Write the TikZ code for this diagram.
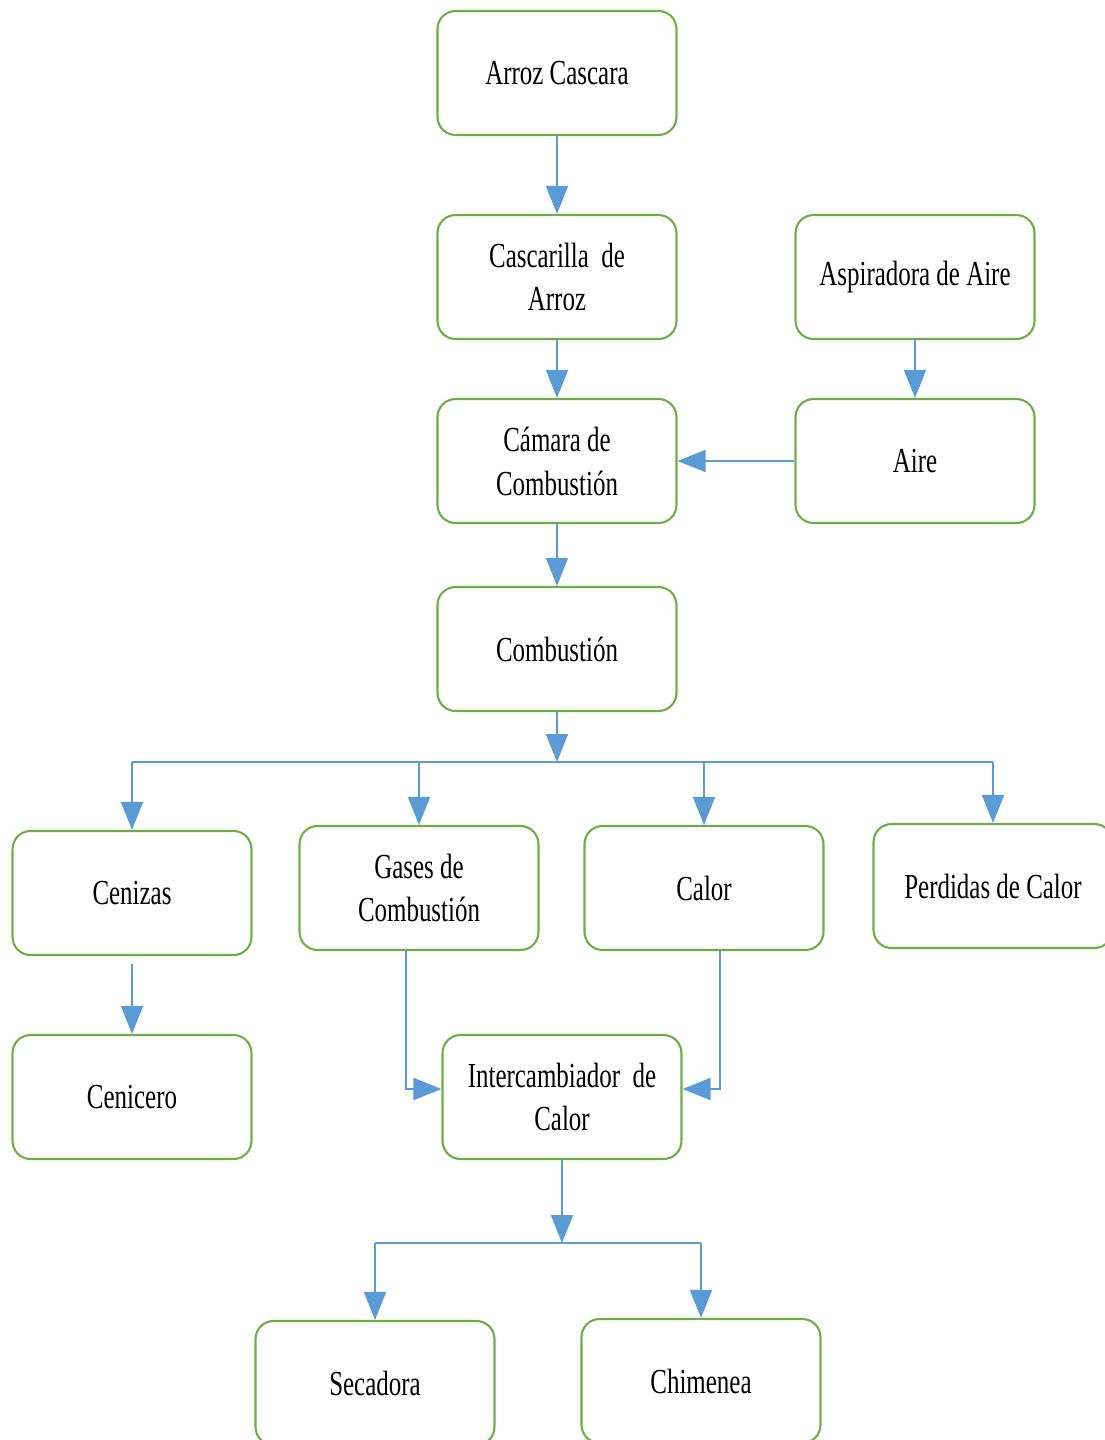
\documentclass[tikz,border=0pt]{standalone}
\usepackage{fontspec}
\setmainfont{Liberation Serif}[FakeStretch=0.71]
\usetikzlibrary{arrows.meta}
\definecolor{boxgreen}{HTML}{70AD47}
\definecolor{flowblue}{HTML}{5B9BD5}

\begin{document}
\begin{tikzpicture}[x=0.02cm,y=-0.02cm,
  box/.style={draw=boxgreen,line width=1.2pt,rounded corners=0.36cm,
    minimum width=4.78cm,minimum height=2.48cm,align=center,
    inner sep=0pt,font=\fontsize{20}{25}\selectfont},
  link/.style={draw=flowblue,line width=1.1pt},
  flow/.style={link,-{Triangle[length=0.56cm,width=0.44cm]}}]
\useasboundingbox (0,0) rectangle (1105,1440);
% column of the burner
\node[box] (arroz) at (557,73) {Arroz Cascara};
\node[box] (cascarilla) at (557,277) {Cascarilla~~de\\Arroz};
\node[box] (camara) at (557,461) {Cámara de\\Combustión};
\node[box] (combustion) at (557,649) {Combustión};
\node[box] (aspiradora) at (915,277) {Aspiradora de Aire};
\node[box] (aire) at (915,461) {Aire};
% products
\node[box] (cenizas) at (132,893) {Cenizas};
\node[box] (gases) at (419,888) {Gases de\\Combustión};
\node[box] (calor) at (704,888) {Calor};
\node[box] (perdidas) at (993,886) {Perdidas de Calor};
\node[box] (cenicero) at (132,1097) {Cenicero};
\node[box] (intercambiador) at (562,1097) {Intercambiador~~de\\Calor};
\node[box] (secadora) at (375,1383) {Secadora};
\node[box] (chimenea) at (701,1381) {Chimenea};
\coordinate (bus) at (557,762);
\coordinate (bus2) at (562,1243);

\draw[flow] (arroz) -- (cascarilla);
\draw[flow] (cascarilla) -- (camara);
\draw[flow] (aspiradora) -- (aire);
\draw[flow] (aire) -- (camara);
\draw[flow] (camara) -- (combustion);
\draw[flow] (combustion) -- (bus);
\draw[link] (bus -| cenizas.north) -- (bus -| perdidas.north);
\foreach \n in {cenizas,gases,calor,perdidas}
  \draw[flow] (bus -| \n.north) -- (\n.north);
\draw[flow] ([yshift=-0.16cm]cenizas.south) -- (cenicero);
\draw[flow] ([xshift=-0.26cm]gases.south) |- ([yshift=0.16cm]intercambiador.west);
\draw[flow] ([xshift=0.32cm]calor.south) |- ([yshift=0.16cm]intercambiador.east);
\draw[flow] (intercambiador) -- (bus2);
\draw[link] (bus2 -| secadora.north) -- (bus2 -| chimenea.north);
\foreach \n in {secadora,chimenea}
  \draw[flow] (bus2 -| \n.north) -- (\n.north);
\end{tikzpicture}
\end{document}
